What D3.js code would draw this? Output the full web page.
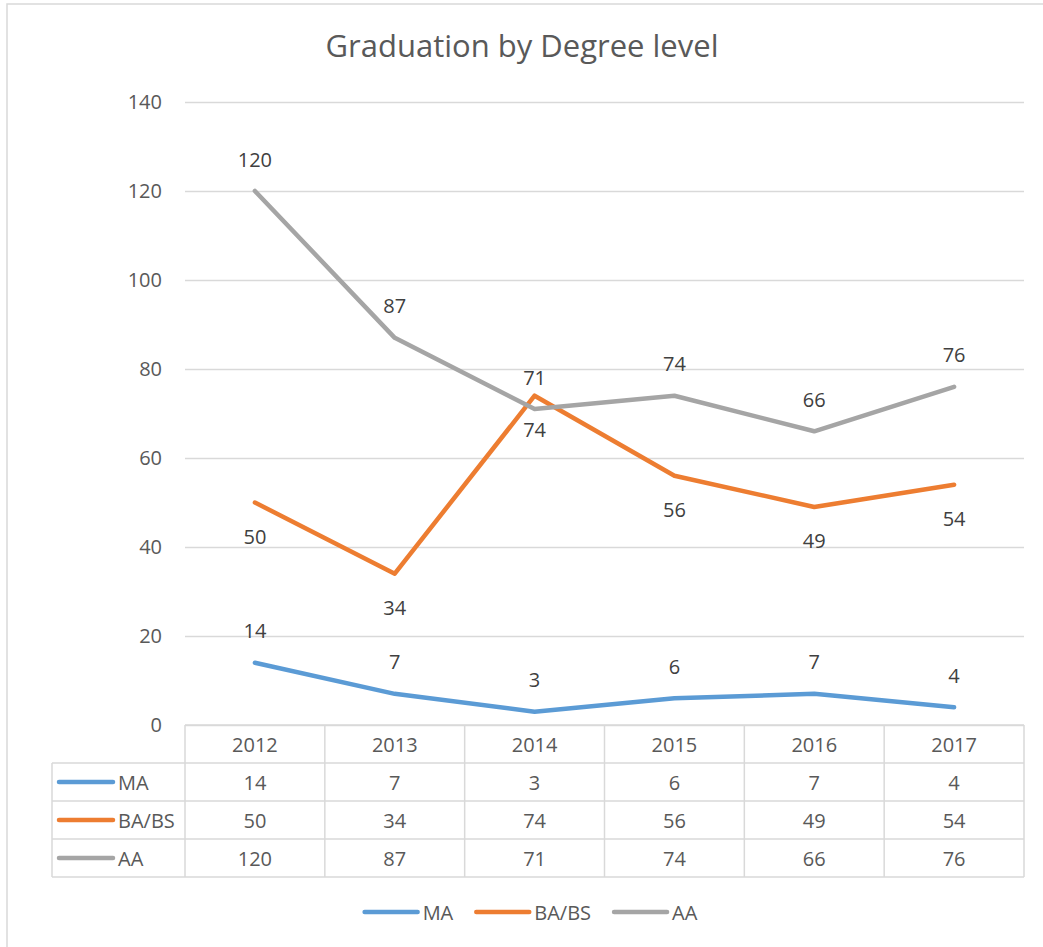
<!DOCTYPE html>
<html>
<head>
<meta charset="utf-8">
<script src="https://cdn.jsdelivr.net/npm/d3@7"></script>
<style>
  html, body { margin: 0; padding: 0; background: #fff; }
  svg { display: block; font-family: "Open Sans", sans-serif; }
</style>
</head>
<body>
<svg id="chart" width="1043" height="947"></svg>
<script>
// Daten
const years = ["2012", "2013", "2014", "2015", "2016", "2017"];
const seriesNames = ["MA", "BA/BS", "AA"];
const maValues = [14, 7, 3, 6, 7, 4];
const babsValues = [50, 34, 74, 56, 49, 54];
const aaValues = [120, 87, 71, 74, 66, 76];
const yTicks = [0, 20, 40, 60, 80, 100, 120, 140];
const colors = ["#5B9BD5", "#ED7D31", "#A5A5A5"];
// Beschriftung oberhalb (-1) oder unterhalb (1) des Punktes
const labelSide = [-1, 1, -1];

const series = seriesNames.map((name, i) => ({
  name,
  values: [maValues, babsValues, aaValues][i],
  color: colors[i],
  side: labelSide[i]
}));

const svg = d3.select("#chart");
const plot = { left: 185, right: 1024, top: 102, bottom: 725 };
const rowH = 38;
const tableLeft = 52;
const textColor = "#595959";
const gridColor = "#D9D9D9";

// Rahmen
svg.append("rect")
  .attr("x", 7).attr("y", 4)
  .attr("width", 1100).attr("height", 1100)
  .attr("fill", "none")
  .attr("stroke", gridColor)
  .attr("stroke-width", 1.5);

// Titel
svg.append("text")
  .attr("x", 522).attr("y", 57)
  .attr("text-anchor", "middle")
  .style("font-size", "31px")
  .style("fill", textColor)
  .text("Graduation by Degree level");

const x = d3.scaleBand().domain(years).range([plot.left, plot.right]);
const y = d3.scaleLinear().domain([0, 140]).range([plot.bottom, plot.top]);

// Gitterlinien und y-Achse
const yAxis = svg.append("g")
  .attr("transform", `translate(${plot.left},0)`)
  .call(d3.axisLeft(y).tickValues(yTicks).tickSize(-(plot.right - plot.left)).tickPadding(23));
yAxis.select(".domain").remove();
yAxis.selectAll(".tick line").attr("stroke", gridColor).attr("stroke-width", 1.5);
yAxis.selectAll(".tick text")
  .style("font-size", "20px")
  .style("font-family", "Open Sans, sans-serif")
  .attr("fill", textColor);

// Linien
const line = d3.line()
  .x((d, i) => x(years[i]) + x.bandwidth() / 2)
  .y(d => y(d));

const gLines = svg.append("g");
series.forEach(s => {
  gLines.append("path")
    .attr("d", line(s.values))
    .attr("fill", "none")
    .attr("stroke", s.color)
    .attr("stroke-width", 4.5)
    .attr("stroke-linejoin", "round")
    .attr("stroke-linecap", "round");
});

// Datenbeschriftungen
const gLabels = svg.append("g");
series.forEach(s => {
  s.values.forEach((v, i) => {
    gLabels.append("text")
      .attr("x", x(years[i]) + x.bandwidth() / 2)
      .attr("y", y(v) + (s.side < 0 ? -32 : 34))
      .attr("text-anchor", "middle")
      .attr("dominant-baseline", "central")
      .style("font-size", "20px")
      .style("fill", "#404040")
      .text(v);
  });
});

// Datentabelle
const gTable = svg.append("g")
  .attr("stroke", gridColor)
  .attr("stroke-width", 1.5);
const tableBottom = plot.bottom + rowH * 4;
gTable.append("line")
  .attr("x1", plot.left).attr("x2", plot.right)
  .attr("y1", plot.bottom).attr("y2", plot.bottom);
for (let r = 1; r <= 4; r++) {
  gTable.append("line")
    .attr("x1", tableLeft).attr("x2", plot.right)
    .attr("y1", plot.bottom + rowH * r).attr("y2", plot.bottom + rowH * r);
}
gTable.append("line")
  .attr("x1", tableLeft).attr("x2", tableLeft)
  .attr("y1", plot.bottom + rowH).attr("y2", tableBottom);
years.forEach(yr => {
  gTable.append("line")
    .attr("x1", x(yr)).attr("x2", x(yr))
    .attr("y1", plot.bottom).attr("y2", tableBottom);
});
gTable.append("line")
  .attr("x1", plot.right).attr("x2", plot.right)
  .attr("y1", plot.bottom).attr("y2", tableBottom);

const gTableText = svg.append("g")
  .style("font-size", "20px")
  .style("fill", textColor);
years.forEach(yr => {
  gTableText.append("text")
    .attr("x", x(yr) + x.bandwidth() / 2)
    .attr("y", plot.bottom + rowH / 2)
    .attr("text-anchor", "middle")
    .attr("dominant-baseline", "central")
    .text(yr);
});
series.forEach((s, r) => {
  const cy = plot.bottom + rowH * (r + 1) + rowH / 2;
  svg.append("line")
    .attr("x1", tableLeft + 7).attr("x2", tableLeft + 61)
    .attr("y1", cy).attr("y2", cy)
    .attr("stroke", s.color)
    .attr("stroke-width", 4.5)
    .attr("stroke-linecap", "round");
  gTableText.append("text")
    .attr("x", tableLeft + 66)
    .attr("y", cy)
    .attr("dominant-baseline", "central")
    .text(s.name);
  s.values.forEach((v, i) => {
    gTableText.append("text")
      .attr("x", x(years[i]) + x.bandwidth() / 2)
      .attr("y", cy)
      .attr("text-anchor", "middle")
      .attr("dominant-baseline", "central")
      .text(v);
  });
});

// Legende
const legendY = 912;
const gLegend = svg.append("g");
let lx = 0;
series.forEach(s => {
  const g = gLegend.append("g").attr("transform", `translate(${lx},0)`);
  g.append("line")
    .attr("x1", 2).attr("x2", 55)
    .attr("y1", legendY).attr("y2", legendY)
    .attr("stroke", s.color)
    .attr("stroke-width", 4.5)
    .attr("stroke-linecap", "round");
  const t = g.append("text")
    .attr("x", 60)
    .attr("y", legendY)
    .attr("dominant-baseline", "central")
    .style("font-size", "20px")
    .style("fill", textColor)
    .text(s.name);
  lx += 60 + t.node().getComputedTextLength() + 21;
});
const legendW = lx - 21;
gLegend.attr("transform", `translate(${530 - legendW / 2},0)`);
</script>
</body>
</html>
